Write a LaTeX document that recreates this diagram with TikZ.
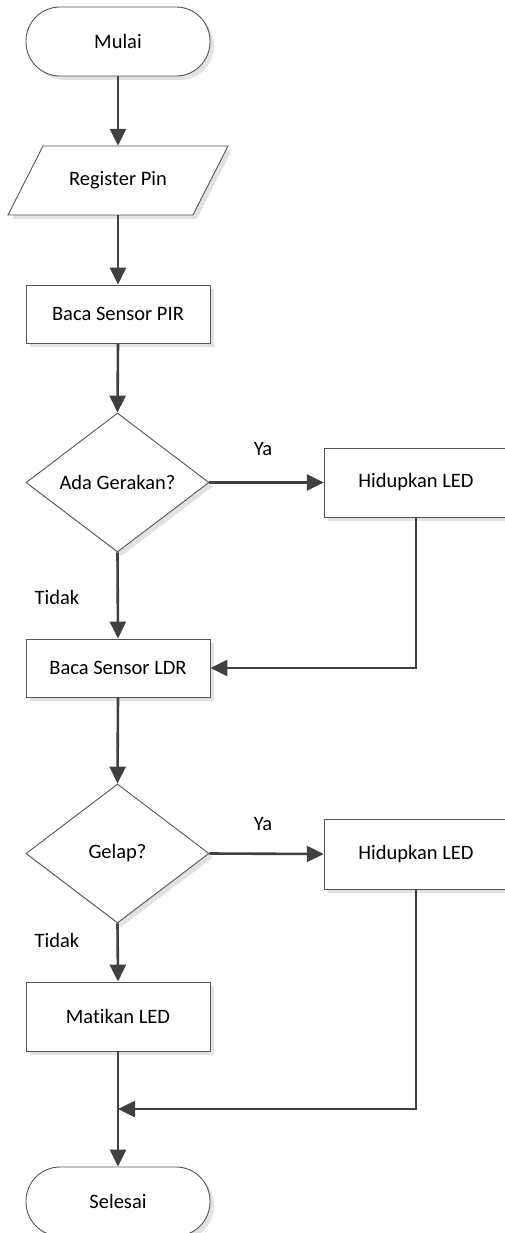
\documentclass[tikz,border=0pt]{standalone}
\usepackage{fontspec}
\setmainfont{Carlito}[Ligatures={NoCommon}]
\usetikzlibrary{shapes.geometric,arrows.meta,shadows}
\definecolor{edgegray}{HTML}{555555}
\definecolor{arrowgray}{HTML}{404040}
\definecolor{shadowgray}{HTML}{E2E2E2}
\tikzset{
  base/.style={draw=edgegray, line width=0.9pt, fill=white, font=\fontsize{20.5}{23}\selectfont,
    inner sep=0pt, drop shadow={shadow xshift=4pt, shadow yshift=-4pt, fill=shadowgray, opacity=1}},
  procbox/.style={base, rectangle, minimum width=184pt},
  termbox/.style={base, rectangle, rounded corners=34pt, minimum width=184pt, minimum height=69pt},
  decbox/.style={base, diamond, minimum width=183pt, minimum height=139pt},
  flow/.style={draw=arrowgray, line width=2.6pt, -{Triangle[length=17pt,width=16pt]}},
  flowline/.style={draw=arrowgray, line width=2.6pt},
  lbl/.style={font=\fontsize{20.5}{23}\selectfont, inner sep=0pt},
  edgeline/.style={draw=edgegray, line width=0.9pt}
}
\begin{document}
\begin{tikzpicture}[x=1pt,y=-1pt]
\useasboundingbox (0,0) rectangle (504,1233);
% terminators and boxes
\node[termbox] (mulai) at (118,41.5) {Mulai};
% parallelogram drawn as a path, text node for anchors
\fill[shadowgray] (47,150) -- (232,150) -- (197,219) -- (12,219) -- cycle;
\draw[edgeline, fill=white] (43,146) -- (228,146) -- (193,215) -- (8,215) -- cycle;
\node[lbl, minimum width=185pt, minimum height=69pt] (reg) at (118,180.5) {Register Pin};
\node[procbox, minimum height=58pt] (pir) at (118,314) {Baca Sensor PIR};
\node[decbox] (d1) at (117.5,482.5) {Ada Gerakan?};
% right-hand boxes run past the picture edge
\fill[shadowgray] (328,452) rectangle (530,521);
\fill[white] (324,448) rectangle (530,517);
\draw[edgeline] (530,448) -- (324,448) -- (324,517) -- (530,517);
\node[lbl, minimum width=184pt, minimum height=69pt] (h1) at (416,482.5) {Hidupkan LED};
\node[procbox, minimum height=58pt] (ldr) at (118,668) {Baca Sensor LDR};
\node[decbox] (d2) at (117.5,853.5) {Gelap?};
\fill[shadowgray] (328,823) rectangle (530,893);
\fill[white] (324,819) rectangle (530,889);
\draw[edgeline] (530,819) -- (324,819) -- (324,889) -- (530,889);
\node[lbl, minimum width=184pt, minimum height=70pt] (h2) at (416,854) {Hidupkan LED};
\node[procbox, minimum height=69pt] (mat) at (118,1016.5) {Matikan LED};
\node[termbox] (selesai) at (118,1201.5) {Selesai};
\coordinate (join) at (118,1109);
% labels
\node[lbl] (ya1) at (263,449) {Ya};
\node[lbl] (tidak1) at (57,597) {Tidak};
\node[lbl] (ya2) at (263,824) {Ya};
\node[lbl] (tidak2) at (57,940) {Tidak};
% connectors
\draw[flow] (mulai.south) -- (reg.north);
\draw[flow] (reg.south) -- (pir.north);
\draw[flow] (pir.south) -- (d1.north);
\draw[flow] (d1.east) -- (h1.west);
\draw[flow] (d1.south) -- (ldr.north);
\draw[flow] (h1.south) |- (ldr.east);
\draw[flow] (ldr.south) -- (d2.north);
\draw[flow] (d2.east) -- (h2.west);
\draw[flow] (d2.south) -- (mat.north);
\draw[flowline] (mat.south) -- (join);
\draw[flow] (h2.south) |- (join);
\draw[flow] (join) -- (selesai.north);
\end{tikzpicture}
\end{document}
